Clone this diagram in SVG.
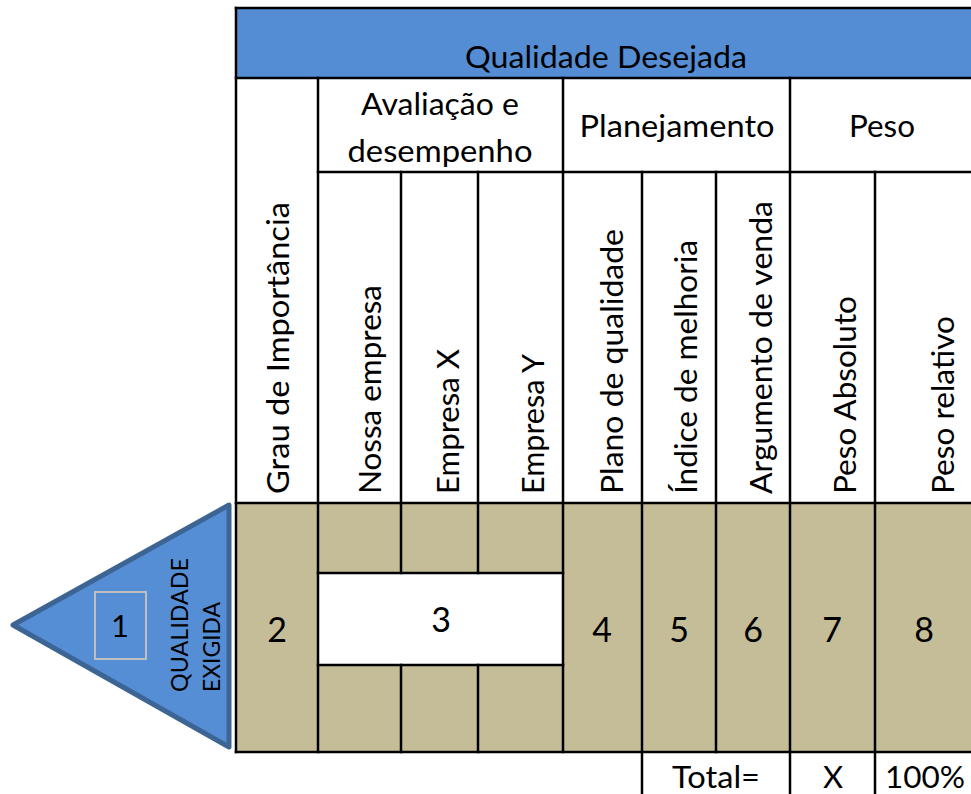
<svg xmlns="http://www.w3.org/2000/svg" width="971" height="794" viewBox="0 0 971 794">
<style>
.t{font-family:Lato,"Liberation Sans",sans-serif;font-size:31px;fill:#000}
.n{font-size:34px}
.m{text-anchor:middle}
.ln{stroke:#000;stroke-width:2.5;fill:none;stroke-linecap:square}
.tan{fill:#C4BD97}
</style>
<rect width="971" height="794" fill="#fff"/>
<g id="header">
<rect x="236" y="8" width="735" height="70" fill="#548DD4"/>
<text class="t m" x="606" y="68" textLength="282" lengthAdjust="spacingAndGlyphs">Qualidade Desejada</text>
</g>
<g id="body">
<rect class="tan" x="236" y="503" width="735" height="249"/>
<rect x="318" y="573" width="245" height="92" fill="#fff"/>
</g>
<g id="grid">
<path class="ln" d="M236 8H971M236 78H971M318 172H971M236 503H971M236 752H971M318 573H563M318 665H563"/>
<path class="ln" d="M236 8V752M318 78V752M563 78V752M790 78V794M642 172V794M716 172V752M875 172V794M401 172V573M478 172V573M401 665V752M478 665V752"/>
</g>
<g id="groups">
<text class="t m" x="440" y="115" textLength="158" lengthAdjust="spacingAndGlyphs">Avaliação e</text>
<text class="t m" x="440" y="162" textLength="185" lengthAdjust="spacingAndGlyphs">desempenho</text>
<text class="t m" x="677" y="137" textLength="195" lengthAdjust="spacingAndGlyphs">Planejamento</text>
<text class="t m" x="882" y="137" textLength="66" lengthAdjust="spacingAndGlyphs">Peso</text>
</g>
<g id="col-headers">
<text class="t" transform="translate(289 494) rotate(-90)" textLength="292" lengthAdjust="spacingAndGlyphs">Grau de Importância</text>
<text class="t" transform="translate(381 494) rotate(-90)" textLength="209" lengthAdjust="spacingAndGlyphs">Nossa empresa</text>
<text class="t" transform="translate(459 494) rotate(-90)" textLength="145" lengthAdjust="spacingAndGlyphs">Empresa X</text>
<text class="t" transform="translate(544 494) rotate(-90)" textLength="140" lengthAdjust="spacingAndGlyphs">Empresa Y</text>
<text class="t" transform="translate(623 494) rotate(-90)" textLength="265" lengthAdjust="spacingAndGlyphs">Plano de qualidade</text>
<text class="t" transform="translate(697 494) rotate(-90)" textLength="254" lengthAdjust="spacingAndGlyphs">Índice de melhoria</text>
<text class="t" transform="translate(772 494) rotate(-90)" textLength="293" lengthAdjust="spacingAndGlyphs">Argumento de venda</text>
<text class="t" transform="translate(856 494) rotate(-90)" textLength="198" lengthAdjust="spacingAndGlyphs">Peso Absoluto</text>
<text class="t" transform="translate(954 494) rotate(-90)" textLength="178" lengthAdjust="spacingAndGlyphs">Peso relativo</text>
</g>
<g id="numbers">
<text class="t n m" x="277" y="642">2</text>
<text class="t n m" x="441" y="632">3</text>
<text class="t n m" x="602" y="642">4</text>
<text class="t n m" x="679" y="642">5</text>
<text class="t n m" x="753" y="642">6</text>
<text class="t n m" x="832" y="642">7</text>
<text class="t n m" x="924" y="642">8</text>
</g>
<g id="totals">
<text class="t m" x="716" y="788" textLength="88" lengthAdjust="spacingAndGlyphs">Total=</text>
<text class="t m" x="833" y="788">X</text>
<text class="t m" x="925" y="788" textLength="80" lengthAdjust="spacingAndGlyphs">100%</text>
</g>
<g id="qualidade-exigida">
<polygon points="13,625 229,505 229,747" fill="#558ED5" stroke="#3C6494" stroke-width="5" stroke-linejoin="round"/>
<rect x="95" y="592" width="51" height="67" fill="none" stroke="#BFBFBF" stroke-width="2"/>
<text class="t m" x="120" y="637">1</text>
<text class="t" style="font-size:23px" transform="translate(188 692) rotate(-90)" textLength="134" lengthAdjust="spacingAndGlyphs">QUALIDADE</text>
<text class="t" style="font-size:23px" transform="translate(220 692) rotate(-90)" textLength="90" lengthAdjust="spacingAndGlyphs">EXIGIDA</text>
</g>
</svg>
